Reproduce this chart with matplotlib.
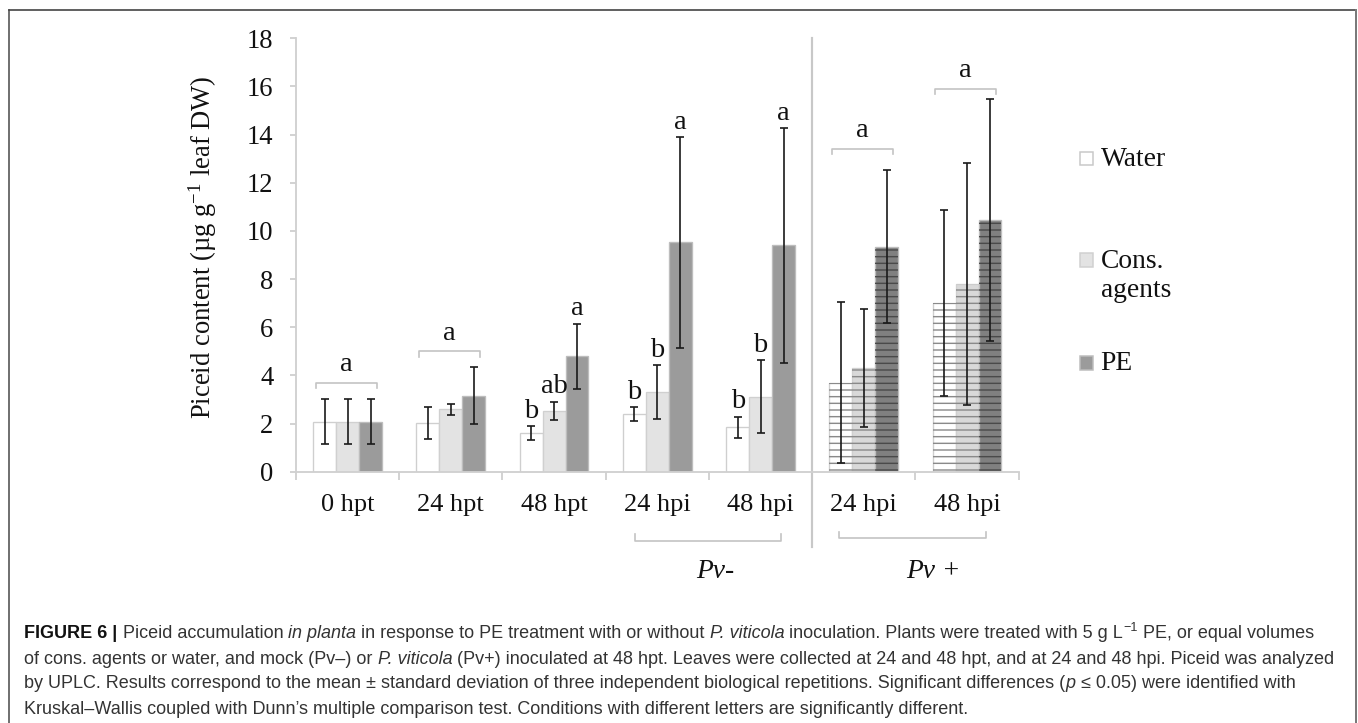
import numpy as np
import matplotlib
matplotlib.use("Agg")
import matplotlib.pyplot as plt
from matplotlib.patches import Rectangle
from matplotlib.transforms import IdentityTransform, blended_transform_factory

W, H, DPI = 1358, 723, 120

# values (mean and sd, µg/g leaf DW)
groups = ["0 hpt", "24 hpt", "48 hpt", "24 hpi", "48 hpi", "24 hpi", "48 hpi"]
inoculated = [False, False, False, False, False, True, True]
water = [2.08, 2.01, 1.59, 2.40, 1.84, 3.69, 6.99]
water_sd = [0.94, 0.66, 0.29, 0.28, 0.45, 3.34, 3.86]
cons = [2.08, 2.59, 2.53, 3.30, 3.12, 4.31, 7.79]
cons_sd = [0.94, 0.23, 0.38, 1.13, 1.51, 2.44, 5.03]
pe = [2.08, 3.16, 4.80, 9.52, 9.40, 9.35, 10.45]
pe_sd = [0.94, 1.17, 1.35, 4.38, 4.87, 3.17, 5.03]

water_letters = ["", "", "b", "b", "b", "", ""]
cons_letters = ["", "", "ab", "b", "b", "", ""]
pe_letters = ["", "", "a", "a", "a", "", ""]
group_letters = ["a", "a", "", "", "", "a", "a"]
bracket_y = [3.7, 5.0, None, None, None, 13.4, 15.9]

infection_labels = ["Pv-", "Pv +"]
infection_spans = [(2.78, 4.20), (4.76, 6.18)]
infection_label_x = [3.56, 5.67]

plt.rcParams["font.family"] = ["Liberation Serif", "DejaVu Serif"]
plt.rcParams["mathtext.fontset"] = "custom"
plt.rcParams["mathtext.rm"] = "Liberation Serif"
plt.rcParams["mathtext.it"] = "Liberation Serif:italic"
plt.rcParams["hatch.linewidth"] = 0.85

fig = plt.figure(figsize=(W / DPI, H / DPI), dpi=DPI)
ax = fig.add_axes([296 / W, 1 - 471.7 / H, (1018.7 - 296) / W, (471.7 - 38.3) / H])

x = np.arange(len(groups))
bw = 0.222
axis_gray = "#d0d0d0"

series = [
    (water, water_sd, water_letters, -bw, "#ffffff", "#ffffff", "#cfcfcf", "#8a8a8a"),
    (cons, cons_sd, cons_letters, 0.0, "#e3e3e3", "#d9d9d9", "#d0d0d0", "#8a8a8a"),
    (pe, pe_sd, pe_letters, bw, "#9b9b9b", "#808080", "#bdbdbd", "#4a4a4a"),
]

for vals, sd, letters, off, face, face_inf, edge, hatch_col in series:
    faces = [face_inf if inf else face for inf in inoculated]
    ax.bar(x + off, vals, width=bw, color=faces, edgecolor=edge, linewidth=0.8, zorder=2)
    xi = [xx + off for xx, inf in zip(x, inoculated) if inf]
    vi = [v for v, inf in zip(vals, inoculated) if inf]
    ax.bar(xi, vi, width=bw, fill=False, edgecolor=hatch_col, linewidth=0, hatch="---", zorder=3)
    ax.errorbar(x + off, vals, yerr=sd, fmt="none", ecolor="#1a1a1a",
                elinewidth=1.0, capsize=2.6, capthick=1.0, zorder=4)
    for xx, v, s, lab in zip(x, vals, sd, letters):
        if lab:
            ax.annotate(lab, (xx + off, v + s), xytext=(0, 5), textcoords="offset points",
                        ha="center", va="baseline", fontsize=17, color="#111111")

# brackets for groups sharing one letter
for xx, lab, by in zip(x, group_letters, bracket_y):
    if not lab:
        continue
    l, r = xx - 0.31, xx + 0.28
    ax.plot([l, l, r, r], [by - 0.22, by, by, by - 0.22], color="#c4c4c4", lw=1.0,
            zorder=3, clip_on=False)
    ax.annotate(lab, ((l + r) / 2, by), xytext=(0, 7), textcoords="offset points",
                ha="center", va="baseline", fontsize=17, color="#111111")

# axes styling
ax.set_xlim(-0.5, len(groups) - 0.5)
ax.set_ylim(0, 18)
for s in ["top", "right"]:
    ax.spines[s].set_visible(False)
for s in ["left", "bottom"]:
    ax.spines[s].set_color(axis_gray)
    ax.spines[s].set_linewidth(1.1)

ax.set_yticks(range(0, 19, 2))
ax.tick_params(axis="y", length=3.6, width=1.1, color=axis_gray, pad=10, labelsize=16,
               labelcolor="#111111")
ax.set_xticks(x)
ax.set_xticklabels(groups)
ax.tick_params(axis="x", which="major", length=0, pad=13.5, labelsize=15.8, labelcolor="#111111")
ax.set_xticks(np.arange(-0.5, len(groups), 1), minor=True)
ax.tick_params(axis="x", which="minor", length=5, width=1.1, color=axis_gray)

ax.set_ylabel("Piceid content (µg g$^{-1}$ leaf DW)", fontsize=16, color="#111111")
ax.yaxis.set_label_coords(-0.107, 0.517)

# divider between mock and inoculated, plus lower brackets
trans = blended_transform_factory(ax.transData, ax.transAxes)
ax.plot([4.5, 4.5], [1.0, -0.174], transform=trans, color="#c8c8c8", lw=1.3, clip_on=False)
for lab, (l, r), lx, yb in zip(infection_labels, infection_spans, infection_label_x,
                               [-0.159, -0.154]):
    ax.plot([l, l, r, r], [yb + 0.015, yb, yb, yb + 0.015], transform=trans,
            color="#c4c4c4", lw=1.0, clip_on=False)
    ax.text(lx, -0.231, lab, transform=trans, ha="center", va="center",
            fontsize=16.5, style="italic", color="#111111")

# legend drawn by hand, to keep the spaced layout of the original
def px(xp, yp):
    return xp / W, 1 - yp / H

legend_items = [("Water", "#ffffff", "#c8c8c8", 151.7, [("Water", 166)]),
                ("Cons. agents", "#e3e3e3", "#d0d0d0", 253.3, [("Cons.", 268), ("agents", 297)]),
                ("PE", "#9b9b9b", "#bdbdbd", 356.3, [("PE", 370.5)])]
for name, fc, ec, top, lines in legend_items:
    x0, y0 = px(1079.5, top + 13.5)
    fig.patches.append(Rectangle((x0, y0), 13.5 / W, 13.5 / H, transform=fig.transFigure,
                                 facecolor=fc, edgecolor=ec, linewidth=0.9))
    for txt, base in lines:
        fig.text(*px(1100.5, base), txt, fontsize=16.5, va="baseline", ha="left", color="#111111")

# frame round the figure
frame_kw = dict(transform=IdentityTransform(), clip_on=False)
fig.add_artist(plt.Line2D([8.5, 8.5], [H - 10, 0], color="#444444", lw=0.9, **frame_kw))
fig.add_artist(plt.Line2D([8.5, 1355.5], [H - 10, H - 10], color="#444444", lw=1.0, **frame_kw))
fig.add_artist(plt.Line2D([1355.5, 1355.5], [H - 10, 0], color="#7a7a7a", lw=1.2, **frame_kw))

# caption with mixed styles
sans = ["Liberation Sans", "DejaVu Sans"]
caption = [
    [("FIGURE 6 | ", {"weight": "bold", "color": "#111111"}),
     ("Piceid accumulation ", {}), ("in planta", {"style": "italic"}),
     (" in response to PE treatment with or without ", {}), ("P. viticola", {"style": "italic"}),
     (" inoculation. Plants were treated with 5 g L", {}), ("\u22121", {"sup": True}),
     (" PE, or equal volumes", {})],
    [("of cons. agents or water, and mock (Pv\u2013) or ", {}), ("P. viticola", {"style": "italic"}),
     (" (Pv+) inoculated at 48 hpt. Leaves were collected at 24 and 48 hpt, and at 24 and 48 hpi. "
      "Piceid was analyzed", {})],
    [("by UPLC. Results correspond to the mean \u00b1 standard deviation of three independent "
      "biological repetitions. Significant differences (", {}), ("p", {"style": "italic"}),
     (" \u2264 0.05) were identified with", {})],
    [("Kruskal\u2013Wallis coupled with Dunn\u2019s multiple comparison test. Conditions with "
      "different letters are significantly different.", {})],
]
baselines = [638.5, 663.5, 688.5, 713.5]

renderer = fig.canvas.get_renderer()


def text_width(s, size, **kw):
    t = fig.text(0, 0, "x" + s + "x", fontsize=size, family=sans, **kw)
    t2 = fig.text(0, 0, "xx", fontsize=size, family=sans, **kw)
    w = t.get_window_extent(renderer).width - t2.get_window_extent(renderer).width
    t.remove()
    t2.remove()
    return w


def line_width(parts, size):
    total = 0
    for s, kw in parts:
        kw = dict(kw)
        sup = kw.pop("sup", False)
        kw.pop("color", None)
        total += text_width(s, size * (0.7 if sup else 1.0), **kw)
    return total


size = 10.0
size = size * (1338 - 24) / line_width(caption[1], size)

for parts, base in zip(caption, baselines):
    xp = 24.5
    for s, kw in parts:
        kw = dict(kw)
        sup = kw.pop("sup", False)
        color = kw.pop("color", "#333333")
        fs = size * (0.7 if sup else 1.0)
        yp = H - base + (size * DPI / 72 * 0.42 if sup else 0)
        fig.text(xp, yp, s, fontsize=fs, family=sans, color=color, va="baseline",
                 ha="left", transform=IdentityTransform(), **kw)
        xp += text_width(s, fs, **kw)

fig.savefig("out.png", dpi=DPI)
